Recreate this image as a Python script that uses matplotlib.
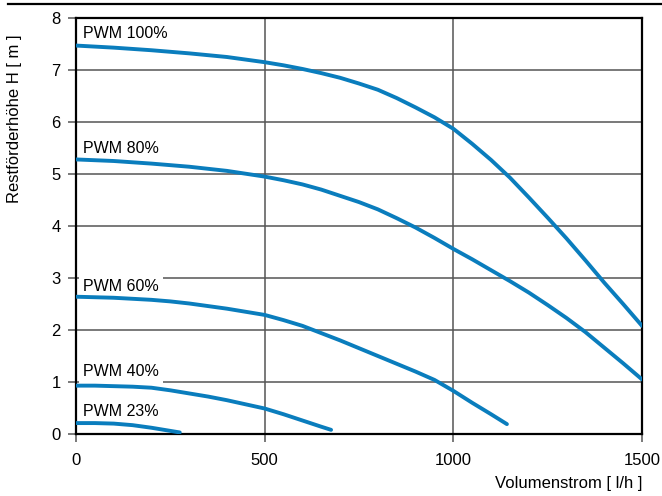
import numpy as np
import matplotlib
matplotlib.use("Agg")
import matplotlib.pyplot as plt
from matplotlib.lines import Line2D

plt.rcParams['font.family'] = ['Liberation Sans', 'DejaVu Sans']

# =========================
# Kennlinien
# =========================
q100 = [0, 100, 200, 300, 400, 500, 550, 600, 650, 700, 750, 800, 850, 900, 950,
        1000, 1050, 1100, 1150, 1200, 1250, 1300, 1350, 1400, 1450, 1500]
h100 = [7.47, 7.43, 7.38, 7.32, 7.25, 7.15, 7.09, 7.02, 6.94, 6.85, 6.74, 6.62, 6.46, 6.28, 6.09,
        5.87, 5.58, 5.27, 4.93, 4.55, 4.16, 3.76, 3.34, 2.91, 2.50, 2.08]

q80 = [0, 100, 200, 300, 400, 500, 550, 600, 650, 700, 750, 800, 850, 900, 950,
       1000, 1050, 1100, 1150, 1200, 1250, 1300, 1350, 1400, 1450, 1500]
h80 = [5.28, 5.25, 5.20, 5.14, 5.06, 4.95, 4.88, 4.80, 4.70, 4.58, 4.46, 4.32, 4.15, 3.97, 3.77,
       3.56, 3.36, 3.15, 2.94, 2.72, 2.48, 2.23, 1.96, 1.66, 1.36, 1.05]

q60 = [0, 50, 100, 150, 200, 250, 300, 350, 400, 450, 500, 550, 600, 650, 700,
       750, 800, 850, 900, 950, 1000, 1050, 1100, 1142]
h60 = [2.64, 2.63, 2.62, 2.60, 2.58, 2.55, 2.51, 2.46, 2.41, 2.35, 2.29, 2.19, 2.08, 1.94, 1.80,
       1.65, 1.50, 1.35, 1.20, 1.04, 0.83, 0.60, 0.38, 0.19]

q40 = [0, 50, 100, 150, 200, 250, 300, 350, 400, 450, 500, 550, 600, 650, 676]
h40 = [0.93, 0.93, 0.92, 0.91, 0.89, 0.84, 0.78, 0.72, 0.65, 0.57, 0.49, 0.38, 0.26, 0.14, 0.08]

q23 = [0, 50, 100, 150, 200, 250, 275]
h23 = [0.21, 0.21, 0.20, 0.17, 0.12, 0.06, 0.03]

labels = ["PWM 100%", "PWM 80%", "PWM 60%", "PWM 40%", "PWM 23%"]
label_h = [7.61, 5.40, 2.75, 1.115, 0.346]

xticks = [0, 500, 1000, 1500]
yticks = [0, 1, 2, 3, 4, 5, 6, 7, 8]

blue = '#0a7dbd'
grey = '#555555'

fig = plt.figure(figsize=(6.62, 4.96), dpi=100)
ax = fig.add_axes([76/662, 1 - 434/496, (642 - 76)/662, (434 - 18)/496])

for q, h in [(q100, h100), (q80, h80), (q60, h60), (q40, h40), (q23, h23)]:
    ax.plot(q, h, color=blue, lw=2.8, solid_capstyle='round', zorder=3)

for txt, yy in zip(labels, label_h):
    ax.text(18, yy, txt, fontsize=11.5, va='baseline', ha='left', zorder=2,
            bbox=dict(fc='white', ec='none', pad=3))

ax.set_xlim(0, 1500)
ax.set_ylim(0, 8)
ax.set_xticks(xticks)
ax.set_yticks(yticks)
ax.set_axisbelow(True)
ax.grid(True, color=grey, lw=1.1)
ax.tick_params(direction='out', length=6, width=1.1, color=grey, labelsize=12)
ax.tick_params(axis='x', pad=7.5)
ax.tick_params(axis='y', pad=5)
for s in ax.spines.values():
    s.set_linewidth(1.6)
    s.set_color('black')

ax.set_xlabel("Volumenstrom [ l/h ]", fontsize=12, ha='right', x=1.0, labelpad=6)
fig.text(15/662, 1 - 119/496, "Restförderhöhe H [ m ]", rotation=90,
         fontsize=12, ha='center', va='center')

# Linie oben
fig.add_artist(Line2D([8/662, 1.0], [1 - 4/496, 1 - 4/496], color='black', lw=1.6))

fig.savefig("out.png", dpi=100)
